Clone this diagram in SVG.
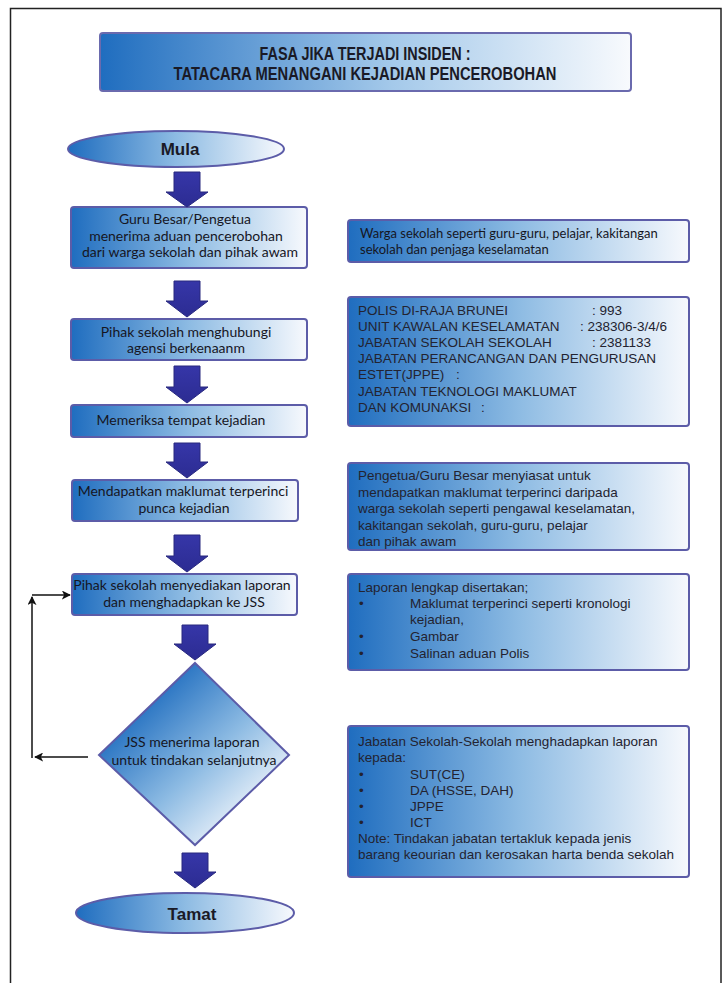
<svg xmlns="http://www.w3.org/2000/svg" width="724" height="983" viewBox="0 0 724 983">
<defs>
<linearGradient id="gBox" x1="0" y1="0" x2="1" y2="0">
<stop offset="0" stop-color="#1f6dbf"/>
<stop offset="0.5" stop-color="#8dbbe3"/>
<stop offset="1" stop-color="#f7f9fd"/>
</linearGradient>
<linearGradient id="gTitle" x1="0" y1="0" x2="1" y2="0">
<stop offset="0" stop-color="#1f6dbf"/>
<stop offset="0.55" stop-color="#a4c9ea"/>
<stop offset="1" stop-color="#f8fafd"/>
</linearGradient>
<linearGradient id="gDia" x1="0" y1="0" x2="1" y2="1">
<stop offset="0.2" stop-color="#1f6dbf"/>
<stop offset="0.55" stop-color="#8dbbe3"/>
<stop offset="0.85" stop-color="#f7f9fd"/>
</linearGradient>
<linearGradient id="gArrow" x1="0" y1="0" x2="0" y2="1">
<stop offset="0" stop-color="#3636a8"/>
<stop offset="1" stop-color="#2c2c92"/>
</linearGradient>
<marker id="ah" viewBox="0 0 10 10" refX="9" refY="5" markerWidth="9" markerHeight="9" markerUnits="userSpaceOnUse" orient="auto">
<path d="M0,0 L10,5 L0,10 L2.5,5 z" fill="#111"/>
</marker>
</defs>
<style>
.box{fill:url(#gBox);stroke:#5c5ca8;stroke-width:2}
.ttl{fill:url(#gTitle);stroke:#6a6aae;stroke-width:2}
.dia{fill:url(#gDia);stroke:#5c5ca8;stroke-width:2}
.blk{fill:url(#gArrow);stroke:#28287f;stroke-width:1}
.fb{fill:none;stroke:#111;stroke-width:1.5}
.lt{font-family:Lato,"Open Sans",sans-serif;font-size:14px;fill:#16161f;text-anchor:middle}
.rt1{font-family:Lato,"Open Sans",sans-serif;font-size:13px;fill:#16161f}
.rt{font-family:"Liberation Sans",Arial,sans-serif;font-size:13.5px;fill:#232330}
.title{font-family:"Liberation Sans",Arial,sans-serif;font-weight:bold;font-size:18px;fill:#1a1a26;text-anchor:middle}
.term{font-family:"Liberation Sans",Arial,sans-serif;font-weight:bold;font-size:17px;fill:#1a1a26;text-anchor:middle}
</style>
<rect x="0" y="0" width="724" height="983" fill="#ffffff"/>
<rect x="10.5" y="8.5" width="710.5" height="990" fill="none" stroke="#222" stroke-width="1.5"/>

<g id="title">
<rect class="ttl" x="100" y="33" width="531" height="58" rx="3"/>
<text class="title" x="365" y="60" textLength="211" lengthAdjust="spacingAndGlyphs">FASA JIKA TERJADI INSIDEN :</text>
<text class="title" x="365" y="80" textLength="383" lengthAdjust="spacingAndGlyphs">TATACARA MENANGANI KEJADIAN PENCEROBOHAN</text>
</g>

<g id="mula">
<ellipse class="box" cx="176" cy="149" rx="108" ry="18"/>
<text class="term" x="180" y="155">Mula</text>
</g>

<g id="step1">
<rect class="box" x="71" y="207" width="236" height="61" rx="3"/>
<text class="lt" x="185" y="224">Guru Besar/Pengetua</text>
<text class="lt" x="186" y="241">menerima aduan pencerobohan</text>
<text class="lt" x="190" y="257">dari warga sekolah dan pihak awam</text>
</g>

<g id="step2">
<rect class="box" x="71" y="319" width="236" height="41" rx="3"/>
<text class="lt" x="186" y="337">Pihak sekolah menghubungi</text>
<text class="lt" x="186" y="353">agensi berkenaanm</text>
</g>

<g id="step3">
<rect class="box" x="71" y="405" width="236" height="32" rx="3"/>
<text class="lt" x="181" y="425">Memeriksa tempat kejadian</text>
</g>

<g id="step4">
<rect class="box" x="72" y="480" width="226" height="41" rx="3"/>
<text class="lt" x="183" y="496">Mendapatkan maklumat terperinci</text>
<text class="lt" x="184" y="513">punca kejadian</text>
</g>

<g id="step5">
<rect class="box" x="72" y="574" width="225" height="41" rx="3"/>
<text class="lt" x="182" y="590">Pihak sekolah menyediakan laporan</text>
<text class="lt" x="184" y="607">dan menghadapkan ke JSS</text>
</g>

<g id="decision">
<polygon class="dia" points="195,663 289,755 195,845 99,755"/>
<text class="lt" x="192" y="747">JSS menerima laporan</text>
<text class="lt" x="194" y="765">untuk tindakan selanjutnya</text>
</g>

<g id="tamat">
<ellipse class="box" cx="185" cy="913" rx="109" ry="20"/>
<text class="term" x="192" y="920">Tamat</text>
</g>

<g id="note1">
<rect class="box" x="348" y="220" width="341" height="42" rx="3"/>
<text class="rt1" x="360" y="238">Warga sekolah seperti guru-guru, pelajar, kakitangan</text>
<text class="rt1" x="360" y="254">sekolah dan penjaga keselamatan</text>
</g>

<g id="note2">
<rect class="box" x="348" y="297" width="341" height="129" rx="3"/>
<text class="rt" x="358" y="315">POLIS DI-RAJA BRUNEI</text>
<text class="rt" x="592" y="315">: 993</text>
<text class="rt" x="358" y="331">UNIT KAWALAN KESELAMATAN</text>
<text class="rt" x="580" y="331">: 238306-3/4/6</text>
<text class="rt" x="358" y="347">JABATAN SEKOLAH SEKOLAH</text>
<text class="rt" x="592" y="347">:  2381133</text>
<text class="rt" x="358" y="363">JABATAN PERANCANGAN DAN PENGURUSAN</text>
<text class="rt" x="358" y="379">ESTET(JPPE)</text>
<text class="rt" x="456" y="379">:</text>
<text class="rt" x="358" y="396">JABATAN TEKNOLOGI MAKLUMAT</text>
<text class="rt" x="358" y="412">DAN KOMUNAKSI</text>
<text class="rt" x="481" y="412">:</text>
</g>

<g id="note3">
<rect class="box" x="348" y="463" width="341" height="87" rx="3"/>
<text class="rt" x="358" y="480">Pengetua/Guru Besar menyiasat untuk</text>
<text class="rt" x="358" y="497">mendapatkan maklumat terperinci daripada</text>
<text class="rt" x="358" y="513">warga sekolah seperti pengawal keselamatan,</text>
<text class="rt" x="358" y="530">kakitangan sekolah, guru-guru, pelajar</text>
<text class="rt" x="358" y="546">dan pihak awam</text>
</g>

<g id="note4">
<rect class="box" x="348" y="574" width="341" height="96" rx="3"/>
<text class="rt" x="358" y="592">Laporan lengkap disertakan;</text>
<text class="rt" x="359" y="608">•</text>
<text class="rt" x="410" y="608">Maklumat terperinci seperti kronologi</text>
<text class="rt" x="410" y="624">kejadian,</text>
<text class="rt" x="359" y="641">•</text>
<text class="rt" x="410" y="641">Gambar</text>
<text class="rt" x="359" y="658">•</text>
<text class="rt" x="410" y="658">Salinan aduan Polis</text>
</g>

<g id="note5">
<rect class="box" x="348" y="726" width="341" height="151" rx="3"/>
<text class="rt" x="358" y="746">Jabatan Sekolah-Sekolah menghadapkan laporan</text>
<text class="rt" x="358" y="762">kepada:</text>
<text class="rt" x="359" y="779">•</text>
<text class="rt" x="410" y="779">SUT(CE)</text>
<text class="rt" x="359" y="795">•</text>
<text class="rt" x="410" y="795">DA (HSSE, DAH)</text>
<text class="rt" x="359" y="811">•</text>
<text class="rt" x="410" y="811">JPPE</text>
<text class="rt" x="359" y="827">•</text>
<text class="rt" x="410" y="827">ICT</text>
<text class="rt" x="358" y="843">Note: Tindakan jabatan tertakluk kepada jenis</text>
<text class="rt" x="358" y="859">barang keourian dan kerosakan harta benda sekolah</text>
</g>

<g id="connectors">
<path class="blk" d="M174,172 H200 V192 H208 L187,207 L166,192 H174 Z"/>
<path class="blk" d="M174,281 H200 V301 H208 L187,317 L166,301 H174 Z"/>
<path class="blk" d="M174,366 H200 V387 H208 L187,403 L166,387 H174 Z"/>
<path class="blk" d="M174,443 H200 V462 H208 L187,478 L166,462 H174 Z"/>
<path class="blk" d="M174,535 H200 V556 H208 L187,572 L166,556 H174 Z"/>
<path class="blk" d="M182,625 H208 V644 H216 L195,660 L174,644 H182 Z"/>
<path class="blk" d="M182,853 H208 V872 H216 L195,888 L174,872 H182 Z"/>
<path class="fb" d="M88,757 H35" marker-end="url(#ah)"/>
<path class="fb" d="M32,758 V597" marker-end="url(#ah)"/>
<path class="fb" d="M32,595 H70" marker-end="url(#ah)"/>
</g>
</svg>
